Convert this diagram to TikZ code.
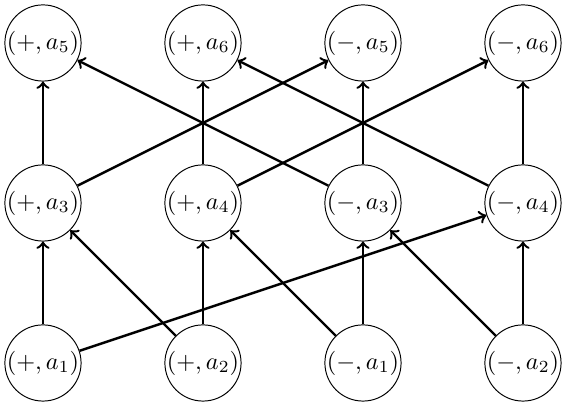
\documentclass[tikz,border=0pt]{standalone}
\usepackage{amsmath}
\usetikzlibrary{positioning}

\begin{document}
\begin{tikzpicture}[state/.style={draw, circle, inner sep=0pt},
  link/.style={->, line width=1pt},
  node distance=2.315cm, on grid]
  \useasboundingbox (-0.622,-0.608) rectangle (7.553,5.252);
  % bottom row
  \node[state] (pa1) at (0,0) {$(+,a_1)$};
  \node[state, right=of pa1] (pa2) {$(+,a_2)$};
  \node[state, right=of pa2] (ma1) {$(-,a_1)$};
  \node[state, right=of ma1] (ma2) {$(-,a_2)$};
  % middle row
  \node[state, above=of pa1] (pa3) {$(+,a_3)$};
  \node[state, above=of pa2] (pa4) {$(+,a_4)$};
  \node[state, above=of ma1] (ma3) {$(-,a_3)$};
  \node[state, above=of ma2] (ma4) {$(-,a_4)$};
  % top row
  \node[state, above=of pa3] (pa5) {$(+,a_5)$};
  \node[state, above=of pa4] (pa6) {$(+,a_6)$};
  \node[state, above=of ma3] (ma5) {$(-,a_5)$};
  \node[state, above=of ma4] (ma6) {$(-,a_6)$};

  \draw[link] (pa1) -- (pa3);
  \draw[link] (pa1) -- (ma4);
  \draw[link] (pa2) -- (pa4);
  \draw[link] (pa2) -- (pa3);
  \draw[link] (ma1) -- (ma3);
  \draw[link] (ma1) -- (pa4);
  \draw[link] (ma2) -- (ma4);
  \draw[link] (ma2) -- (ma3);

  \draw[link] (pa3) -- (pa5);
  \draw[link] (pa3) -- (ma5);
  \draw[link] (pa4) -- (pa6);
  \draw[link] (pa4) -- (ma6);
  \draw[link] (ma3) -- (ma5);
  \draw[link] (ma3) -- (pa5);
  \draw[link] (ma4) -- (ma6);
  \draw[link] (ma4) -- (pa6);
\end{tikzpicture}
\end{document}
